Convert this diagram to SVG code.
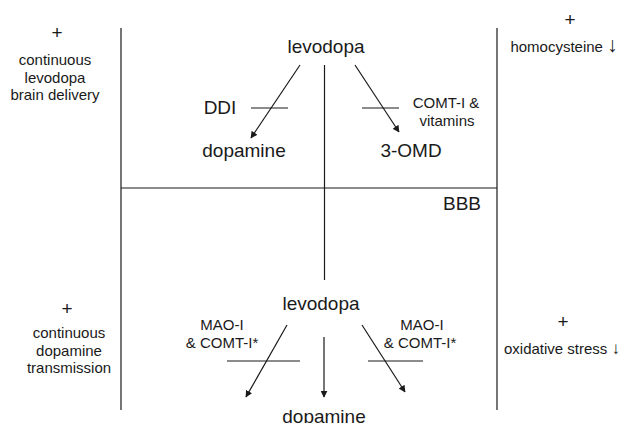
<svg xmlns="http://www.w3.org/2000/svg" width="625" height="423" viewBox="0 0 625 423">
<style>
text{font-family:"Liberation Sans",Arial,sans-serif;fill:#1a1a1a;text-anchor:middle}
.big{font-size:19px}
.sm{font-size:15px}
.plus{font-size:19px}
.ln{stroke:#1a1a1a;stroke-width:1.2;fill:none}
</style>
<defs>
<marker id="ah" viewBox="0 0 10 10" refX="9" refY="5" markerWidth="7" markerHeight="7" markerUnits="userSpaceOnUse" orient="auto">
<path d="M0,0 L10,5 L0,10 z" fill="#1a1a1a"/>
</marker>
</defs>
<g id="frame">
<line class="ln" x1="121" y1="28" x2="121" y2="410"/>
<line class="ln" x1="497" y1="28" x2="497" y2="410"/>
<line class="ln" x1="121" y1="188" x2="497" y2="188"/>
<line class="ln" x1="324.5" y1="65" x2="324.5" y2="280"/>
</g>
<g id="connectors">
<line class="ln" x1="300" y1="65" x2="251" y2="138" marker-end="url(#ah)"/>
<line class="ln" x1="251" y1="108" x2="288" y2="108"/>
<line class="ln" x1="355" y1="65" x2="399" y2="132" marker-end="url(#ah)"/>
<line class="ln" x1="362" y1="108" x2="399" y2="108"/>
<line class="ln" x1="287" y1="325" x2="246" y2="397" marker-end="url(#ah)"/>
<line class="ln" x1="227" y1="361" x2="300" y2="361"/>
<line class="ln" x1="324" y1="337" x2="324" y2="397" marker-end="url(#ah)"/>
<line class="ln" x1="362" y1="325" x2="405" y2="392" marker-end="url(#ah)"/>
<line class="ln" x1="368" y1="361" x2="423" y2="361"/>
</g>
<g id="levodopa-top"><text class="big" x="326" y="53">levodopa</text></g>
<g id="ddi"><text class="big" x="220" y="114">DDI</text></g>
<g id="dopamine-top"><text class="big" x="244" y="157">dopamine</text></g>
<g id="comt-vit"><text class="sm" x="446" y="108">COMT-I &amp;</text><text class="sm" x="447" y="126">vitamins</text></g>
<g id="omd"><text class="big" x="411" y="157">3-OMD</text></g>
<g id="bbb"><text class="big" x="462" y="210">BBB</text></g>
<g id="levodopa-bottom"><text class="big" x="321" y="310">levodopa</text></g>
<g id="mao-left"><text class="sm" x="222" y="330">MAO-I</text><text class="sm" x="222" y="348">&amp; COMT-I*</text></g>
<g id="mao-right"><text class="sm" x="422" y="330">MAO-I</text><text class="sm" x="420" y="348">&amp; COMT-I*</text></g>
<g id="dopamine-bottom"><text class="big" x="324" y="423">dopamine</text></g>
<g id="left-top"><text class="plus" x="57" y="39">+</text><text class="sm" x="55" y="65">continuous</text><text class="sm" x="55" y="83">levodopa</text><text class="sm" x="55" y="100">brain delivery</text></g>
<g id="right-top"><text class="plus" x="570" y="26">+</text><text class="sm" x="564" y="52">homocysteine <tspan style="font-size:21px">↓</tspan></text></g>
<g id="left-bottom"><text class="plus" x="67" y="315">+</text><text class="sm" x="69" y="338">continuous</text><text class="sm" x="69" y="356">dopamine</text><text class="sm" x="69" y="373">transmission</text></g>
<g id="right-bottom"><text class="plus" x="563" y="328">+</text><text class="sm" x="562" y="354">oxidative stress <tspan style="font-size:17px">↓</tspan></text></g>
</svg>
